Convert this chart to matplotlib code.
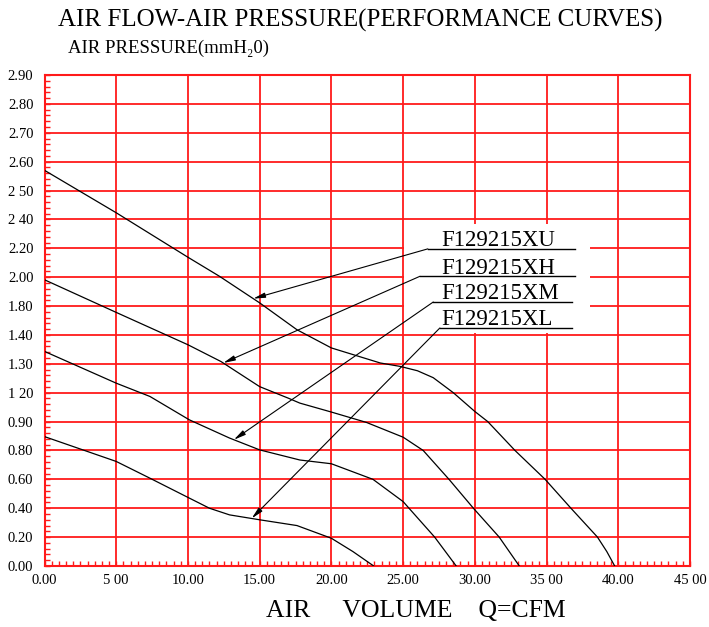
import numpy as np
import matplotlib
matplotlib.use('Agg')
import matplotlib.pyplot as plt
from matplotlib.patches import Rectangle

plt.rcParams['font.family'] = ['Liberation Serif', 'DejaVu Serif']

# axis labels (the y scale is an evenly spaced grid with these labels)
x_ticks = [0, 5, 10, 15, 20, 25, 30, 35, 40, 45]
x_labels = ['0.00', '5 00', '10.00', '15.00', '20.00', '25.00', '30.00', '35 00', '40.00', '45 00']
y_labels = ['0.00', '0.20', '0.40', '0.60', '0.80', '0.90', '1 20', '1.30', '1.40',
            '1.80', '2.00', '2.20', '2 40', '2 50', '2.60', '2.70', '2.80', '2.90']

# curves: x = CFM, y = position on the pressure grid (row index)
xu_x = [0.0, 5.0, 10.0, 12.2, 15.0, 17.6, 20.0, 23.4, 24.8, 26.0, 27.1, 28.5, 30.0, 30.9, 32.8, 34.9, 36.7, 38.55, 39.2, 39.75]
xu_y = [13.70, 12.23, 10.69, 10.03, 9.11, 8.18, 7.55, 7.03, 6.91, 6.76, 6.52, 6.0, 5.35, 5.0, 4.0, 3.0, 2.0, 1.0, 0.5, 0.0]

xh_x = [0.0, 5.0, 10.0, 12.3, 15.0, 17.0, 17.8, 20.0, 22.45, 25.0, 26.4, 28.2, 29.9, 31.7, 33.1]
xh_y = [9.91, 8.78, 7.66, 7.08, 6.21, 5.81, 5.64, 5.33, 4.97, 4.46, 4.0, 3.0, 2.0, 1.0, 0.0]

xm_x = [0.0, 5.0, 7.35, 10.1, 12.9, 15.0, 17.8, 20.0, 22.9, 25.0, 27.2, 28.7]
xm_y = [7.43, 6.33, 5.87, 5.06, 4.43, 4.02, 3.67, 3.54, 3.0, 2.23, 1.0, 0.0]

xl_x = [0.0, 5.0, 7.35, 10.1, 11.5, 12.9, 15.0, 17.6, 20.0, 21.5, 22.95]
xl_y = [4.48, 3.62, 3.04, 2.35, 2.0, 1.77, 1.60, 1.40, 0.96, 0.50, 0.0]

models = ['F129215XU', 'F129215XH', 'F129215XM', 'F129215XL']
curves = [(xu_x, xu_y), (xh_x, xh_y), (xm_x, xm_y), (xl_x, xl_y)]
# where each leader arrow touches its curve (x in CFM)
arrow_x = [14.55, 12.46, 13.2, 14.44]
# label underline: left end x, y row, right end x
under_x0 = [26.72, 26.17, 27.1, 27.56]
under_y = [10.98, 10.03, 9.14, 8.24]
under_x1 = [36.97, 36.97, 36.74, 36.74]

fig = plt.figure(figsize=(7.09, 6.27), dpi=100)
ax = fig.add_axes([44.5 / 709, 61 / 627, 645.5 / 709, 491 / 627])

red = '#ff1a1a'
ax.set_xlim(0, 45)
ax.set_ylim(0, 17)
ax.set_xticks(x_ticks)
ax.set_xticklabels(x_labels)
ax.set_yticks(range(len(y_labels)))
ax.set_yticklabels(y_labels)
ax.set_xticks(np.arange(0, 45.01, 0.5), minor=True)
ax.set_yticks(np.arange(0, 17.01, 0.2), minor=True)
ax.grid(True, which='major', color=red, lw=1.3)
ax.tick_params(which='both', direction='in', color=red, width=1, length=3.5,
               top=False, right=False)
ax.tick_params(axis='y', which='major', labelsize=10.5, pad=8)
ax.tick_params(axis='x', which='major', labelsize=10.5, pad=6)
for s in ax.spines.values():
    s.set_color(red)
    s.set_linewidth(1.5)

# white area behind model labels
ax.add_patch(Rectangle((25.05, 8.05), 13.0, 3.8, facecolor='white', edgecolor='none', zorder=1.8))

for (cx, cy) in curves:
    ax.plot(cx, cy, color='black', lw=0.9, zorder=3)

for name, (cx, cy), ax_x, x0, y0, x1 in zip(models, curves, arrow_x, under_x0, under_y, under_x1):
    tip_y = np.interp(ax_x, cx, cy)
    ax.plot([x0, x1], [y0, y0], color='black', lw=1.0, zorder=4)
    ax.annotate('', xy=(ax_x, tip_y), xytext=(x0, y0),
                arrowprops=dict(arrowstyle='-|>,head_length=0.7,head_width=0.15',
                                color='black', lw=0.8, mutation_scale=10,
                                shrinkA=0, shrinkB=0), zorder=4)
    ax.text(27.68, y0 + 0.09, name, fontsize=16.5, va='baseline', ha='left', zorder=4)

fig.text(360 / 709, 1 - 20 / 627, 'AIR FLOW-AIR PRESSURE(PERFORMANCE CURVES)',
         fontsize=18, ha='center', va='center')
fig.text(68 / 709, 1 - 48 / 627, 'AIR PRESSURE(mmH\u20820)',
         fontsize=13.5, ha='left', va='center')
fig.text(416 / 709, 1 - 611 / 627, 'AIR     VOLUME    Q=CFM',
         fontsize=18.5, ha='center', va='center')

fig.savefig('out.png', dpi=100)
